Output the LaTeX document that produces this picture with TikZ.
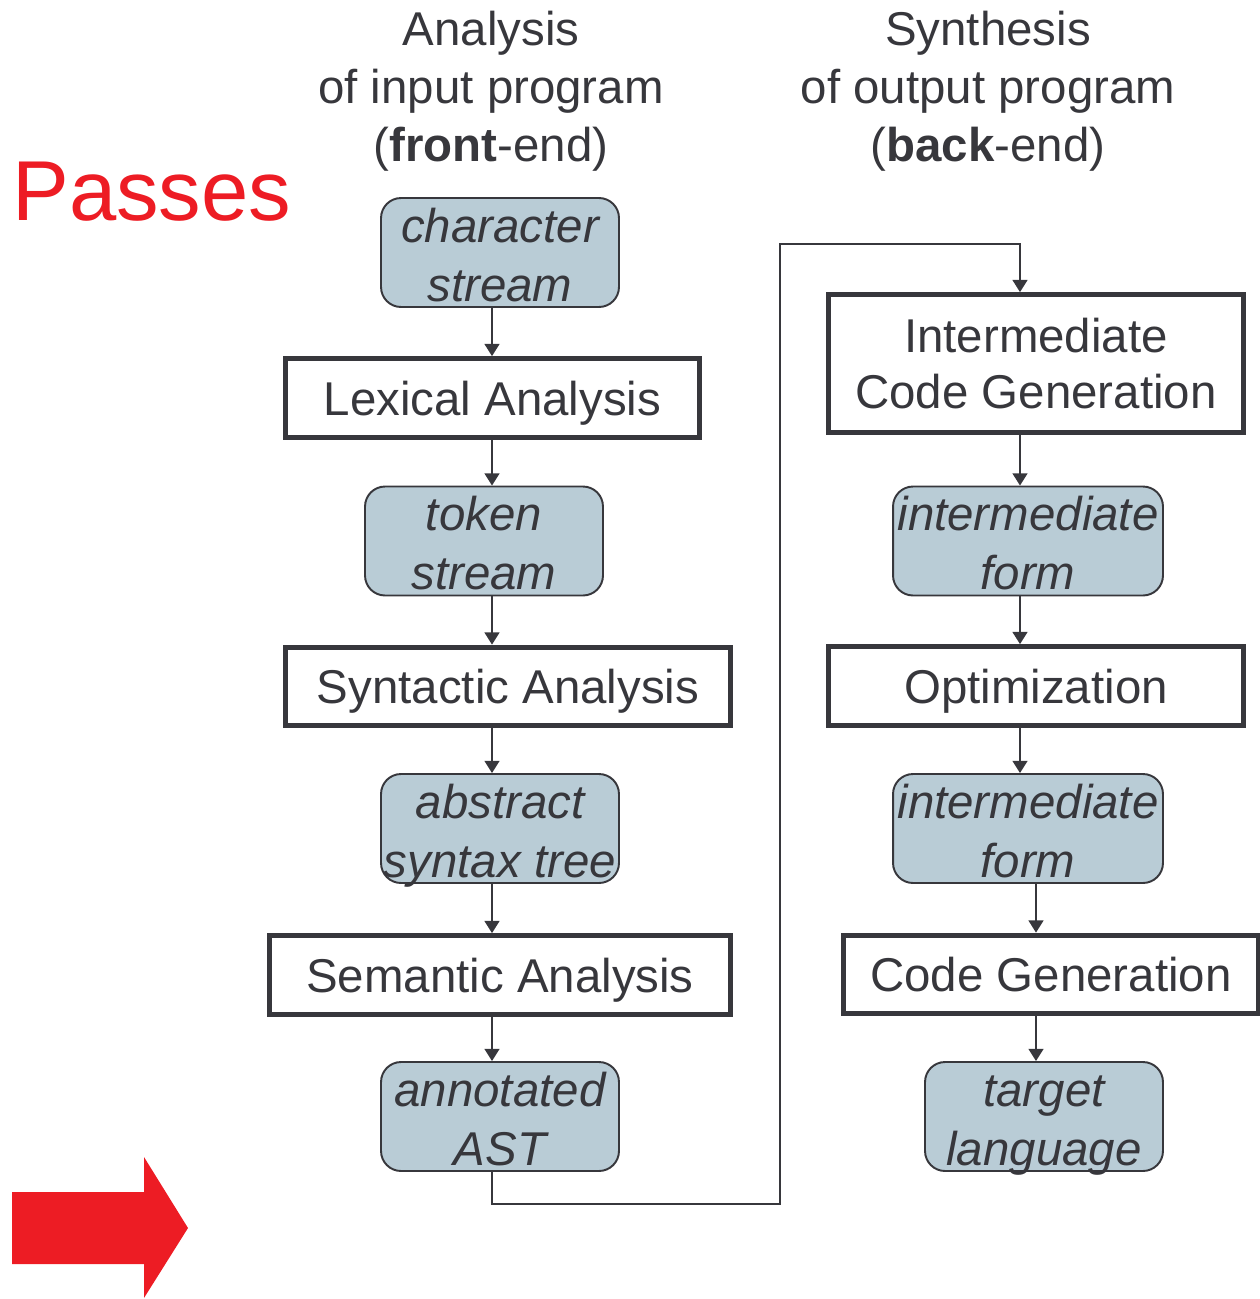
\documentclass[tikz,border=0pt]{standalone}
\usepackage{fontspec}
\setmainfont{Liberation Sans}
\usetikzlibrary{arrows.meta}
\definecolor{inkgrey}{RGB}{55,55,60}
\definecolor{datablue}{RGB}{185,204,214}
\definecolor{passred}{RGB}{237,28,36}
\tikzset{
  stage/.style={draw=inkgrey, line width=3pt, minimum height=1.57cm, inner sep=0pt,
    text=inkgrey, font=\fontsize{27}{32}\selectfont, align=center, text depth=0pt},
  data/.style={draw=inkgrey, line width=1.1pt, fill=datablue, rounded corners=0.4cm,
    minimum width=4.76cm, minimum height=2.18cm, inner sep=0pt,
    text=inkgrey, font=\fontsize{27}{33.4}\selectfont\itshape, align=center},
  flow/.style={draw=inkgrey, line width=1.1pt, -{Triangle[length=7pt,width=8.5pt]}},
  heading/.style={text=inkgrey, font=\fontsize{27}{32.9}\selectfont, align=center},
}
% two lines of a data box, with fixed height and depth
\newcommand\dlines[2]{\rule{0pt}{22pt}\raisebox{0pt}[0pt][\depth]{#1}\\%
  \raisebox{0pt}[\height][0pt]{#2}}
\begin{document}
\begin{tikzpicture}[x=0.02cm, y=-0.02cm]
  \useasboundingbox (0,0) rectangle (1259,1299);
  % titles
  \node[heading] (front) at (491,91) {Analysis\\of input program\\(\textbf{front}-end)};
  \node[heading] (back) at (988,91) {Synthesis\\of output program\\(\textbf{back}-end)};
  \node[anchor=base west, inner sep=0pt, text=passred, font=\fontsize{48.4}{56}\selectfont]
    (passes) at (12,220) {Passes};
  \fill[passred] (12,1192) -- (144,1192) -- (144,1157) -- (188,1228)
    -- (144,1298) -- (144,1264) -- (12,1264) -- cycle;
  % front-end
  \node[data] (cs) at (500,252.5) {\dlines{character}{stream}};
  \node[stage, minimum width=8.28cm] (lx) at (492.5,398) {Lexical Analysis};
  \node[data] (ts) at (484,541) {\dlines{token}{stream}};
  \node[stage, minimum width=8.89cm] (syn) at (508,686.5) {Syntactic Analysis};
  \node[data] (ast) at (500,828.5) {\dlines{abstract}{syntax tree}};
  \node[stage, minimum width=9.21cm] (sem) at (500,975) {Semantic Analysis};
  \node[data] (aast) at (500,1116.5) {\dlines{annotated}{AST}};
  % back-end
  \node[stage, minimum width=8.29cm, minimum height=2.75cm] (icg) at (1036,363.5)
    {Intermediate\\Code Generation};
  \node[data, minimum width=5.4cm] (ifa) at (1028,541) {\dlines{intermediate}{form}};
  \node[stage, minimum width=8.29cm] (opt) at (1036,686) {Optimization};
  \node[data, minimum width=5.4cm] (ifb) at (1028,828.5) {\dlines{intermediate}{form}};
  \node[stage, minimum width=8.3cm] (cg) at (1051,974.5) {Code Generation};
  \node[data] (tl) at (1044,1116.5) {\dlines{target}{language}};
  % columns of the connectors
  \coordinate (colL) at (492,0);
  \coordinate (colR) at (1020,0);
  \coordinate (colS) at (1036,0);
  \coordinate (loopB) at (780,1204);
  \coordinate (loopT) at (780,244);
  \draw[flow] (cs.south -| colL) -- (lx.north -| colL);
  \draw[flow] (lx.south -| colL) -- (ts.north -| colL);
  \draw[flow] (ts.south -| colL) -- (syn.north -| colL);
  \draw[flow] (syn.south -| colL) -- (ast.north -| colL);
  \draw[flow] (ast.south -| colL) -- (sem.north -| colL);
  \draw[flow] (sem.south -| colL) -- (aast.north -| colL);
  \draw[flow] (aast.south -| colL) |- (loopB) -- (loopT) -| (icg.north -| colR);
  \draw[flow] (icg.south -| colR) -- (ifa.north -| colR);
  \draw[flow] (ifa.south -| colR) -- (opt.north -| colR);
  \draw[flow] (opt.south -| colR) -- (ifb.north -| colR);
  \draw[flow] (ifb.south -| colS) -- (cg.north -| colS);
  \draw[flow] (cg.south -| colS) -- (tl.north -| colS);
\end{tikzpicture}
\end{document}
